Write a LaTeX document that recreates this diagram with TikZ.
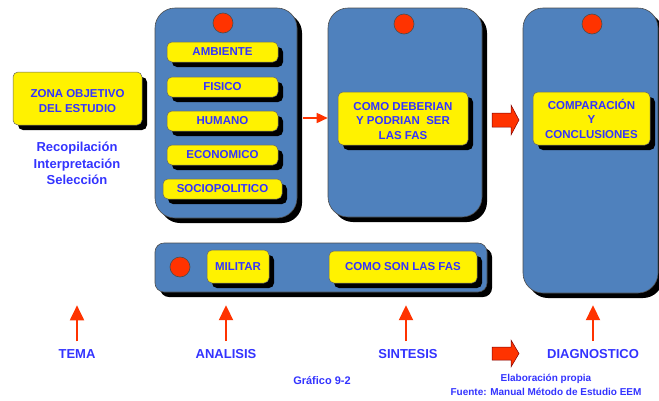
\documentclass[tikz,border=0pt]{standalone}
\usepackage{fontspec}
\setmainfont{Liberation Sans}
\usetikzlibrary{shadows,arrows.meta}
\definecolor{panelblue}{RGB}{79,129,189}
\definecolor{txtblue}{RGB}{51,51,255}
\definecolor{arrred}{RGB}{255,51,0}
\begin{document}
\begin{tikzpicture}[x=1pt,y=-1pt,
  shad/.style={drop shadow={shadow xshift=5pt,shadow yshift=-5pt,opacity=1,fill=black}},
  panel/.style={draw=black!70, line width=0.6pt, fill=panelblue, rounded corners=20pt, shad, inner sep=0pt},
  ybox/.style={draw=black!60, line width=0.5pt, fill=yellow, rounded corners=5pt, shad, inner sep=0pt, text=txtblue, font=\bfseries\fontsize{11.5}{14.5}\selectfont, align=center},
  dot/.style={circle, draw=black!70, line width=0.6pt, fill=arrred, minimum size=20pt, inner sep=0pt},
  lbl/.style={text=txtblue, font=\bfseries\fontsize{13}{16.5}\selectfont, align=center, inner sep=1pt},
  upar/.style={draw=arrred, line width=2pt, -{Triangle[width=14pt,length=15pt]}},
  smallar/.style={draw=arrred, line width=1.6pt, -{Triangle[width=10pt,length=11pt]}},
  blockar/.style={fill=arrred, draw=red!50!black, line width=0.5pt}]
\useasboundingbox (0,0) rectangle (659,400);

% panels
\node[panel, minimum width=142pt, minimum height=210pt] (p1) at (226,113) {};
\node[panel, minimum width=154pt, minimum height=209pt] (p2) at (405,112.5) {};
\node[panel, minimum width=135pt, minimum height=285pt] (p3) at (590.5,150.5) {};
\node[panel, rounded corners=9pt, minimum width=332pt, minimum height=49pt] (p4) at (321,267.5) {};

% red dots
\node[dot] (d1) at (223,23) {};
\node[dot] (d2) at (404,24) {};
\node[dot] (d3) at (592,24) {};
\node[dot] (d4) at (180,267) {};

% yellow boxes
\node[ybox, minimum width=129pt, minimum height=53pt] (zona) at (77.5,98.5) {\rule{0pt}{13pt}ZONA OBJETIVO\\DEL ESTUDIO};
\node[ybox, minimum width=111pt, minimum height=20pt] (amb) at (222.5,52) {AMBIENTE};
\node[ybox, minimum width=111pt, minimum height=20pt] (fis) at (222.5,87) {FISICO};
\node[ybox, minimum width=111pt, minimum height=20pt] (hum) at (222.5,121) {HUMANO};
\node[ybox, minimum width=111pt, minimum height=20pt] (eco) at (222.5,155) {ECONOMICO};
\node[ybox, minimum width=119pt, minimum height=20pt] (soc) at (222.5,189) {SOCIOPOLITICO};
\node[ybox, minimum width=130pt, minimum height=53pt] (deb) at (403,118.5) {\rule{0pt}{13pt}COMO DEBERIAN\\Y PODRIAN\ \ SER\\LAS FAS};
\node[ybox, minimum width=117pt, minimum height=53pt] (comp) at (591.5,118.5) {COMPARACIÓN\\Y\\CONCLUSIONES};
\node[ybox, minimum width=62pt, minimum height=33pt] (mil) at (238,266.5) {MILITAR};
\node[ybox, minimum width=148pt, minimum height=32pt] (son) at (403,267) {COMO SON LAS FAS};

% left text
\node[lbl] (reco) at (77,163.5) {Recopilación\\Interpretación\\Selección};

% small arrow panel1 -> panel2
\coordinate (a1s) at (303,118);
\draw[smallar] (a1s) -- (a1s -| p2.west);

% block arrows
\coordinate (ba1) at (492,120);
\coordinate (ba2) at (492,353.5);
\filldraw[blockar] (ba1) ++(0,-7) -- ++(19,0) -- ++(0,-8) -- ++(8,15) -- ++(-8,15) -- ++(0,-8) -- ++(-19,0) -- cycle;
\filldraw[blockar] (ba2) ++(0,-6.5) -- ++(19,0) -- ++(0,-7) -- ++(8,13.5) -- ++(-8,13.5) -- ++(0,-7) -- ++(-19,0) -- cycle;

% bottom labels
\node[lbl] (tema) at (77,354) {TEMA};
\node[lbl] (anal) at (226,354) {ANALISIS};
\node[lbl] (sint) at (408,354) {SINTESIS};
\node[lbl] (diag) at (593,354) {DIAGNOSTICO};

\draw[upar] ([yshift=7pt]tema.north) -- ++(0,-36);
\draw[upar] ([yshift=7pt]anal.north) -- ++(0,-36);
\draw[upar] ([xshift=-2pt,yshift=7pt]sint.north) -- ++(0,-36);
\draw[upar] ([yshift=7pt]diag.north) -- ++(0,-36);

% captions
\node[text=txtblue, font=\bfseries\fontsize{11}{13}\selectfont] (graf) at (322,381) {Gráfico 9-2};
\node[text=txtblue, font=\bfseries\fontsize{10}{14}\selectfont, align=center] (fuente) at (546,385) {Elaboración propia\\Fuente: Manual Método de Estudio EEM};
\end{tikzpicture}
\end{document}
